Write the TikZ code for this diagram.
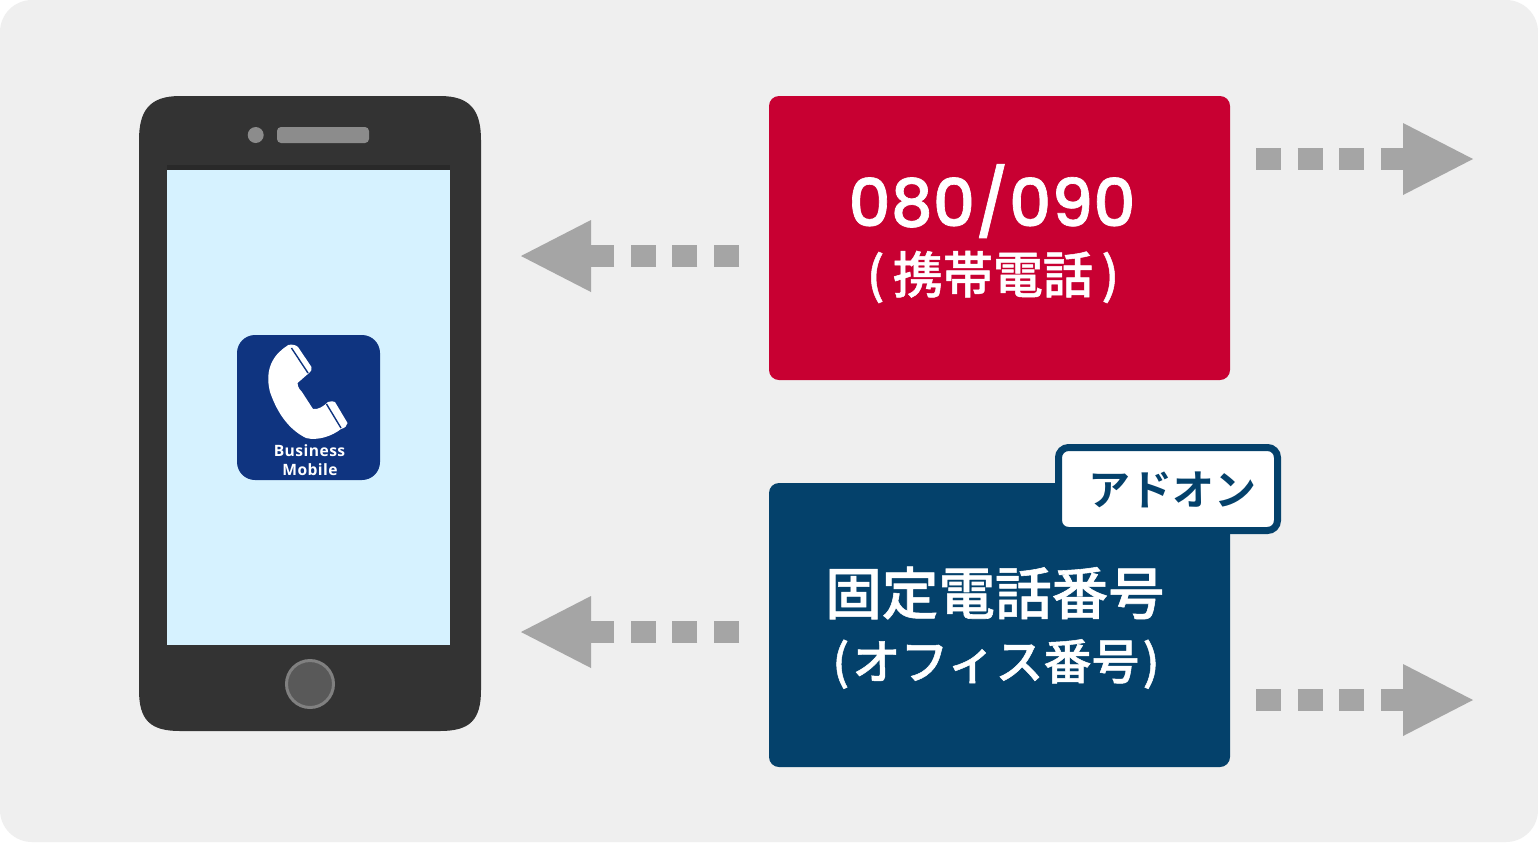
\documentclass[tikz,border=0pt]{standalone}
\usepackage{fontspec}
\usepackage{xcolor}
\usepackage{tikz}
\usetikzlibrary{arrows.meta}
\newfontfamily\cjk[RawFeature={embolden=1}]{Noto Sans CJK JP Medium}
\newfontfamily\cjkbold{Noto Sans CJK JP Bold}
\newfontfamily\digits[RawFeature={embolden=1}]{Poppins Medium}
\newfontfamily\iconfont[LetterSpace=3]{Open Sans}
\definecolor{bggray}{HTML}{EFEFEF}
\definecolor{phonedark}{HTML}{333333}
\definecolor{screenblue}{HTML}{D6F2FF}
\definecolor{iconblue}{HTML}{0F3480}
\definecolor{mobilered}{HTML}{C80032}
\definecolor{fixednavy}{HTML}{04416B}
\definecolor{arrowgray}{HTML}{A5A5A5}
\begin{document}
\begin{tikzpicture}[
        x=0.5pt, y=-0.5pt,
        numbox/.style={rectangle, rounded corners=5pt, minimum width=230.5pt, minimum height=142pt, inner sep=0pt},
        addon/.style={rectangle, draw=fixednavy, line width=3.5pt, fill=white, rounded corners=5pt, minimum width=109.5pt, minimum height=41.5pt, inner sep=0pt},
        flow/.style={draw=arrowgray, line width=11pt, dash pattern=on 12.6pt off 8.2pt, -{Triangle[length=35pt, width=36pt, line width=0pt, fill=arrowgray, sep=0pt]}},
        label/.style={text=white, inner sep=0pt}
    ]
    \useasboundingbox (0,0) rectangle (1538,843);
    \fill[white] (0,0) rectangle (1538,843);

    % Background panel
    \fill[bggray, rounded corners=16pt] (0,0) rectangle (1538,842);

    % Phone body
    \fill[phonedark] (180,96) -- (440,96) .. controls (470,96) and (481,110) .. (481,140)
        -- (481,690) .. controls (481,720) and (470,731) .. (440,731)
        -- (180,731) .. controls (150,731) and (139,720) .. (139,690)
        -- (139,140) .. controls (139,110) and (150,96) .. (180,96) -- cycle;
    \fill[black!20!phonedark] (167,165) rectangle (450,170);

    % Screen, camera, speaker, home button
    \node[fill=screenblue, minimum width=141.5pt, minimum height=237.5pt, inner sep=0pt] (screen) at (308.5,407.5) {};
    \node[circle, fill=black!45!white, minimum size=8pt, inner sep=0pt] (camera) at (255.7,135) {};
    \node[rectangle, fill=black!45!white, rounded corners=2pt, minimum width=46pt, minimum height=8pt, inner sep=0pt] (speaker) at (323,135) {};
    \node[circle, draw=black!50!white, line width=1.5pt, fill=black!65!white, minimum size=23.5pt, inner sep=0pt] (home) at (310,684) {};

    % App icon
    \node[rectangle, fill=iconblue, rounded corners=9pt, minimum width=71.5pt, minimum height=72.5pt, inner sep=0pt] (icon) at (308.5,407.5) {};
    \fill[white] (288.3,345) .. controls (292,344) and (296,345) .. (298,347)
        -- (311.5,367) .. controls (312,370) and (311,372) .. (309,373)
        -- (297.5,383) .. controls (298,388) and (300,390) .. (302,392)
        -- (313,409) .. controls (318,410) and (324,406) .. (328,402)
        .. controls (331,401) and (333,401) .. (335,402)
        -- (347.5,423) .. controls (347,426) and (345,428) .. (341,429)
        .. controls (332,436) and (318,441) .. (306,438)
        .. controls (290,430) and (278,415) .. (270,392)
        .. controls (267,380) and (268,370) .. (272,362)
        .. controls (276,354) and (282,349) .. (288.3,345) -- cycle;
    \draw[iconblue, line width=0.7pt] (291.5,348) -- (308,373);
    \draw[iconblue, line width=0.7pt] (326.5,404) -- (341,428);
    \node[label, font=\iconfont\bfseries\fontsize{7.8}{8}\selectfont] (business) at (309.5,450.5) {Business};
    \node[label, font=\iconfont\bfseries\fontsize{7.8}{8}\selectfont] (mobile) at (310,469.5) {Mobile};

    % Number boxes
    \node[numbox, fill=mobilered] (red) at (999.5,238) {};
    \node[numbox, fill=fixednavy] (navy) at (999.5,625) {};
    \node[addon] (tag) at (1168,489) {};

    % Texts
    \node[label, font=\digits\fontsize{33}{33}\selectfont] (num) at (992,201) {080/090};
    \node[label, font=\cjk\fontsize{25}{25}\selectfont] (kind) at (993,277) {(\,携帯電話\,)};
    \node[label, font=\cjk\fontsize{28.3}{28.3}\selectfont] (fixed) at (995,593) {固定電話番号};
    \node[label, font=\cjk\fontsize{24}{24}\selectfont] (office) at (996,664) {(\kern1.5pt オフィス番号\kern1.5pt)};
    \node[label, text=fixednavy, font=\cjkbold\fontsize{21}{21}\selectfont] (addontext) at (1172,490) {アドオン};

    % Free ends of the arrows
    \coordinate (redL) at (739,256);
    \coordinate (phoneA) at (521,256);
    \coordinate (navyL) at (739,632);
    \coordinate (phoneB) at (521,632);
    \coordinate (redR) at (1256,159);
    \coordinate (outA) at (1473,159);
    \coordinate (navyR) at (1256,700);
    \coordinate (outB) at (1473,700);

    % Dotted arrows
    \draw[flow] (redL) -- (phoneA);
    \draw[flow] (navyL) -- (phoneB);
    \draw[flow] (redR) -- (outA);
    \draw[flow] (navyR) -- (outB);
\end{tikzpicture}
\end{document}
